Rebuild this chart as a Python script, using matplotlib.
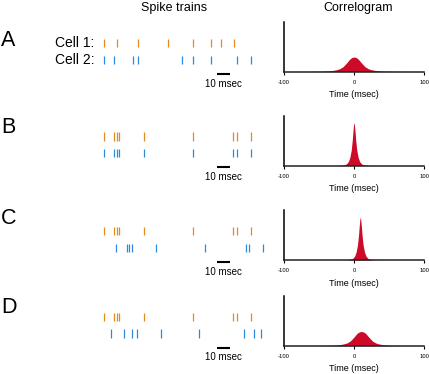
import numpy as np
import matplotlib
matplotlib.use('Agg')
import matplotlib.pyplot as plt

plt.rcParams.update({
    'font.family': ['Liberation Sans', 'DejaVu Sans'],
    'font.size': 7,
})

W, H = 429, 374
DPI = 100

ORANGE = '#E2891F'
BLUE = '#2A8BDC'
RED = '#CD0A27'

PANELS = ['A', 'B', 'C', 'D']

# spike times (msec)
cell1_a = [0, 9.3, 25, 48, 66.5, 80, 87.3, 97.3]
cell2_a = [0, 7.5, 21.3, 25, 58, 66.8, 80, 99.3, 109.8]
cell1_b = [0, 7.5, 9.3, 11.3, 30, 66.5, 96.8, 99.8, 109.8]
cell2_b = [0, 7.5, 9.3, 11.3, 30, 66.5, 96.8, 99.8, 109.8]
cell1_c = [0, 7.5, 9.3, 11.3, 30, 66.5, 96.8, 99.8, 109.8]
cell2_c = [8.8, 16.8, 18.8, 21, 39, 75.3, 106, 108.2, 119.3]
cell1_d = [0, 7.5, 9.3, 11.3, 30, 66.5, 96.8, 99.8, 109.8]
cell2_d = [5.3, 14.8, 21, 24.3, 42.5, 71, 105, 112.3, 117.3]

# correlogram curves (time in msec, height relative to axis)
corr_t_a = [-100, -60, -44, -36, -30, -25, -20.5, -15.7, -11, -6.2, -3, 0,
            3, 6.2, 11, 15.7, 20.5, 25, 30, 36, 44, 60, 100]
corr_h_a = [0, 0.002, 0.006, 0.012, 0.022, 0.035, 0.055, 0.095, 0.165, 0.245, 0.28, 0.29,
            0.28, 0.245, 0.165, 0.095, 0.055, 0.035, 0.022, 0.012, 0.006, 0.002, 0]
corr_t_b = [-100, -25, -18, -14, -11, -8, -6, -4, -2.5, -1.5, -0.7, 0,
            0.7, 1.5, 2.5, 4, 6, 8, 11, 14, 18, 25, 100]
corr_h_b = [0, 0, 0.005, 0.014, 0.03, 0.08, 0.16, 0.3, 0.5, 0.68, 0.8, 0.86,
            0.8, 0.68, 0.5, 0.3, 0.16, 0.08, 0.03, 0.014, 0.005, 0, 0]
corr_t_c = [-100, -16, -9, -5, -2, 1, 3, 5, 6.5, 7.5, 8.3, 9,
            9.7, 10.5, 11.5, 13, 15, 17, 20, 23, 27, 34, 100]
corr_h_c = [0, 0, 0.005, 0.014, 0.03, 0.08, 0.16, 0.3, 0.5, 0.68, 0.8, 0.86,
            0.8, 0.68, 0.5, 0.3, 0.16, 0.08, 0.03, 0.014, 0.005, 0, 0]
corr_t_d = [-100, -50, -34, -26, -20, -15, -10, -5.2, -0.5, 4.3, 7.5, 10.5,
            13.5, 16.7, 21.5, 26.2, 31, 35.5, 40.5, 46.5, 54.5, 70, 100]
corr_h_d = [0, 0.002, 0.006, 0.012, 0.022, 0.035, 0.055, 0.095, 0.165, 0.245, 0.275, 0.285,
            0.275, 0.245, 0.165, 0.095, 0.055, 0.035, 0.022, 0.012, 0.006, 0.002, 0]

spikes = [(cell1_a, cell2_a), (cell1_b, cell2_b), (cell1_c, cell2_c), (cell1_d, cell2_d)]
curves = [(corr_t_a, corr_h_a), (corr_t_b, corr_h_b), (corr_t_c, corr_h_c), (corr_t_d, corr_h_d)]

corr_ticks = [-100, 0, 100]
scale_bar = (84.3, 94.3)


def px_axes(fig, left, top, width, height):
    return fig.add_axes([left / W, 1 - (top + height) / H, width / W, height / H])


fig = plt.figure(figsize=(W / DPI, H / DPI), dpi=DPI)

fig.text(174.5 / W, 1 - 8.5 / H, 'Spike trains', ha='center', va='center', fontsize=9)
fig.text(357.7 / W, 1 - 8.5 / H, 'Correlogram', ha='center', va='center', fontsize=9)

# layout (pixels)
row_unit = 16.8                      # px between cell 1 and cell 2
cell1_y = [43.3, 136.5, 231.2, 316.7]
letter_y = [40.8, 127.5, 218.3, 307.5]
corr_top = [21.5, 115.5, 210.0, 295.7]
ms_px = 1.3333
x0_px = 104.3

for i, panel in enumerate(PANELS):
    fig.text(1.0 / W, 1 - letter_y[i] / H, panel, ha='left', va='center', fontsize=15.5)

    # --- spike trains ---
    ylo, yhi = -1.8, 1.6
    ax = px_axes(fig, 90, cell1_y[i] - 0.6 * row_unit, 180, (yhi - ylo) * row_unit)
    ax.set_xlim((90 - x0_px) / ms_px, (270 - x0_px) / ms_px)
    ax.set_ylim(ylo, yhi)
    c1, c2 = spikes[i]
    ax.eventplot([c2, c1], lineoffsets=[0, 1], linelengths=0.48,
                 linewidths=0.9, colors=[BLUE, ORANGE])
    ax.plot(scale_bar, [-0.845, -0.845], color='black', lw=1.5, solid_capstyle='butt')
    ax.text(np.mean(scale_bar), -1.4, '10 msec', ha='center', va='center', fontsize=7)
    if i == 0:
        ax.text(-7.7, 1, 'Cell 1:', ha='right', va='center', fontsize=10)
        ax.text(-7.7, 0, 'Cell 2:', ha='right', va='center', fontsize=10)
    ax.axis('off')

    # --- correlogram ---
    cx = px_axes(fig, 284, corr_top[i], 140, 50)
    t, h = curves[i]
    cx.fill_between(t, h, 0, color=RED, lw=0)
    cx.set_xlim(-100, 100)
    cx.set_ylim(0, 1)
    cx.set_xticks(corr_ticks)
    cx.set_xticklabels([str(v) for v in corr_ticks], fontsize=4.2)
    cx.tick_params(axis='x', length=2.2, width=0.8, pad=3.6)
    cx.set_yticks([])
    cx.spines['top'].set_visible(False)
    cx.spines['right'].set_visible(False)
    cx.spines['left'].set_linewidth(1.1)
    cx.spines['bottom'].set_linewidth(1.1)
    cx.spines['bottom'].set_color('#222222')
    cx.set_xlabel('Time (msec)', fontsize=6.5, labelpad=4)
    cx.set_facecolor('none')

fig.savefig('out.png', dpi=DPI)
